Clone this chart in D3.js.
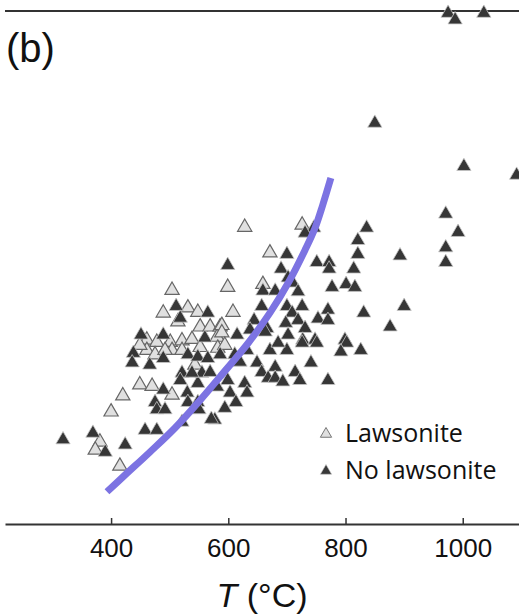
<!DOCTYPE html>
<html>
<head>
<meta charset="utf-8">
<script src="https://cdn.jsdelivr.net/npm/d3@7"></script>
<style>
  html, body { margin: 0; padding: 0; background: #fff; }
  svg { display: block; }
</style>
</head>
<body>
<svg id="chart" width="519" height="615"></svg>
<script>
// ---- data (T in °C, P in GPa) ----
const panelLabel = "(b)";
const xTicks = [400, 600, 800, 1000];
const seriesNames = ["Lawsonite", "No lawsonite"];

const lawsoniteT = [628, 726, 671, 599, 659, 504, 489, 531, 548, 608, 552, 569, 586, 461, 478, 501, 521, 538, 581, 461, 475, 504, 521, 582, 589, 589, 594, 449, 470, 504, 420, 400, 381, 373, 415, 552, 514, 492, 543, 449];
const lawsoniteP = [4.05, 4.08, 3.70, 3.23, 3.27, 3.19, 2.88, 2.95, 2.89, 2.89, 2.69, 2.69, 2.69, 2.51, 2.48, 2.48, 2.50, 2.52, 2.55, 2.37, 2.31, 2.37, 2.37, 2.40, 2.71, 2.61, 2.44, 1.90, 1.88, 1.76, 1.75, 1.53, 1.12, 1.01, 0.79, 2.41, 2.76, 2.37, 2.17, 2.44];

const noLawsoniteT = [975, 987, 1036, 850, 1002, 1092, 971, 992, 971, 971, 893, 900, 876, 831, 836, 821, 821, 814, 801, 816, 777, 746, 731, 599, 700, 751, 772, 772, 690, 702, 659, 680, 710, 719, 657, 700, 726, 709, 644, 666, 698, 719, 753, 770, 770, 731, 615, 663, 702, 727, 748, 799, 586, 611, 632, 671, 700, 685, 726, 751, 802, 792, 826, 649, 680, 741, 714, 657, 668, 680, 693, 722, 770, 599, 628, 581, 603, 632, 613, 594, 577, 511, 518, 565, 451, 489, 560, 438, 436, 489, 531, 548, 565, 521, 518, 489, 475, 478, 492, 458, 478, 521, 571, 530, 531, 548, 548, 555, 550, 318, 369, 390, 424, 538, 466, 620, 569, 637];
const noLawsoniteP = [6.97, 6.88, 6.97, 5.47, 4.88, 4.76, 4.23, 3.98, 3.77, 3.57, 3.66, 2.97, 2.69, 2.88, 4.04, 3.87, 3.68, 3.48, 3.27, 3.23, 3.23, 4.04, 3.97, 3.53, 3.68, 3.57, 3.57, 3.48, 3.48, 3.36, 3.18, 3.18, 3.29, 3.17, 2.97, 2.97, 2.97, 2.88, 2.78, 2.67, 2.74, 2.78, 2.80, 2.92, 2.78, 2.67, 2.58, 2.62, 2.58, 2.51, 2.51, 2.51, 2.31, 2.31, 2.37, 2.37, 2.37, 2.47, 2.47, 2.47, 2.47, 2.35, 2.37, 2.20, 2.14, 2.20, 2.07, 2.07, 1.99, 1.99, 1.94, 1.96, 1.96, 1.96, 1.92, 1.87, 1.79, 1.79, 1.66, 1.58, 1.42, 2.97, 2.81, 2.88, 2.58, 2.58, 2.54, 2.33, 2.20, 2.26, 2.31, 2.28, 2.26, 2.06, 1.96, 1.83, 1.66, 1.56, 1.56, 1.28, 1.28, 1.39, 1.43, 1.79, 1.66, 1.66, 1.92, 2.06, 1.56, 1.15, 1.24, 0.98, 1.08, 2.06, 2.17, 2.21, 2.07, 2.65];

const curveT = [393, 424, 466, 509, 552, 586, 634, 671, 705, 731, 748, 761, 775];
const curveP = [0.44, 0.67, 0.98, 1.31, 1.69, 2.01, 2.47, 2.88, 3.33, 3.74, 4.04, 4.35, 4.72];

// ---- layout ----
const svg = d3.select("#chart");
const x = d3.scaleLinear().domain([219, 1096]).range([5, 519]);
const y = d3.scaleLinear().domain([0, 7]).range([524, 11]);

const axisColor = "#333";

// top frame line
svg.append("line")
  .attr("x1", x.range()[0]).attr("x2", x.range()[1])
  .attr("y1", y(7)).attr("y2", y(7))
  .attr("stroke", axisColor).attr("stroke-width", 2);

// bottom axis
const xAxis = d3.axisBottom(x).tickValues(xTicks).tickFormat(d3.format("d"))
  .tickSizeInner(-6).tickSizeOuter(0).tickPadding(15);
const gx = svg.append("g").attr("transform", `translate(0,${y(0)})`).call(xAxis);
gx.select(".domain").attr("stroke", axisColor).attr("stroke-width", 2);
gx.selectAll(".tick line").attr("stroke", axisColor).attr("stroke-width", 1.5);
gx.selectAll(".tick text")
  .attr("fill", "#111")
  .style("font-family", "'Liberation Sans', Arial, sans-serif")
  .style("font-size", "26px");

// axis title
const title = svg.append("text")
  .attr("x", (x.range()[0] + x.range()[1]) / 2)
  .attr("y", 607)
  .attr("text-anchor", "middle")
  .style("font-family", "'Liberation Sans', Arial, sans-serif")
  .style("font-size", "34px")
  .attr("fill", "#111");
title.append("tspan").style("font-style", "italic").text("T");
title.append("tspan").text(" (°C)");

// panel label
svg.append("text")
  .attr("x", 6).attr("y", 62)
  .style("font-family", "'Liberation Sans', Arial, sans-serif")
  .style("font-size", "40px")
  .attr("fill", "#111")
  .text(panelLabel);

// points
const tri = d3.symbol().type(d3.symbolTriangle).size(88);
const lawsonite = lawsoniteT.map((t, i) => ({ T: t, P: lawsoniteP[i] }));
const noLawsonite = noLawsoniteT.map((t, i) => ({ T: t, P: noLawsoniteP[i] }));

svg.append("g").selectAll("path").data(lawsonite).join("path")
  .attr("d", tri)
  .attr("transform", d => `translate(${x(d.T)},${y(d.P)})`)
  .attr("fill", "#e0e0e0")
  .attr("stroke", "#666")
  .attr("stroke-width", 1.2);

svg.append("g").selectAll("path").data(noLawsonite).join("path")
  .attr("d", tri)
  .attr("transform", d => `translate(${x(d.T)},${y(d.P)})`)
  .attr("fill", "#363636")
  .attr("stroke", "#c8c8c8")
  .attr("stroke-width", 0.8);

// curve
const curveData = curveT.map((t, i) => ({ T: t, P: curveP[i] }));
svg.append("path")
  .datum(curveData)
  .attr("d", d3.line().x(d => x(d.T)).y(d => y(d.P)).curve(d3.curveCatmullRom))
  .attr("fill", "none")
  .attr("stroke", "#7c73e2")
  .attr("stroke-width", 7);

// legend
const legendTri = d3.symbol().type(d3.symbolTriangle).size(55);
const legend = svg.append("g").attr("transform", "translate(326,434)");
seriesNames.forEach((name, i) => {
  const g = legend.append("g").attr("transform", `translate(0,${i * 37})`);
  g.append("path").attr("d", legendTri)
    .attr("fill", i === 0 ? "#e0e0e0" : "#383838")
    .attr("stroke", i === 0 ? "#777" : "#c8c8c8")
    .attr("stroke-width", i === 0 ? 1 : 0.6);
  g.append("text")
    .attr("x", 19).attr("y", 8)
    .style("font-family", "'Open Sans', 'Noto Sans', sans-serif")
    .style("font-size", "25px")
    .attr("fill", "#111")
    .text(name);
});
</script>
</body>
</html>
